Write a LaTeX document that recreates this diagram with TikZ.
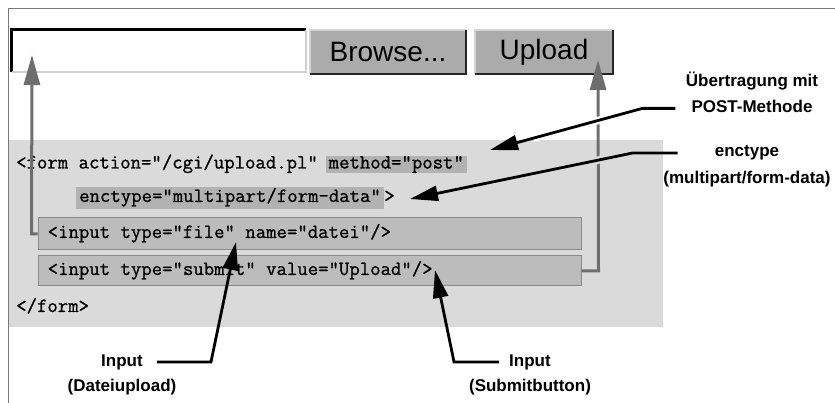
\documentclass[tikz,border=0pt]{standalone}
\usepackage{fontspec}
\setmainfont{Liberation Sans}
\newfontfamily\codefont[FakeBold=1]{Latin Modern Mono}
\usetikzlibrary{positioning, arrows.meta}
\definecolor{panelgray}{HTML}{DADADA}
\definecolor{hlgray}{HTML}{B2B2B2}
\definecolor{boxgray}{HTML}{BCBCBC}
\definecolor{boxborder}{HTML}{8A8A8A}
\definecolor{btngray}{HTML}{ABABAB}
\definecolor{btnlight}{HTML}{D4D4D4}
\definecolor{fieldlight}{HTML}{D0D0D0}
\definecolor{pathgray}{HTML}{6E6E6E}
\definecolor{framegray}{HTML}{7A7A7A}

\begin{document}
\begin{tikzpicture}[x=1pt, y=-1pt,
    code/.style={font=\codefont\fontsize{20.2}{22}\selectfont, inner sep=0pt,
                 text height=11pt, text depth=3pt},
    hl/.style={code, fill=hlgray, inner xsep=3pt, inner ysep=1.5pt},
    inputbox/.style={fill=boxgray, draw=boxborder, line width=1pt,
                     minimum width=543pt, inner sep=0pt},
    lbl/.style={font=\bfseries\fontsize{17}{20}\selectfont, inner sep=0pt,
                text height=12pt, text depth=4pt},
    btn/.style={fill=btngray, font=\fontsize{28}{31}\selectfont, inner sep=0pt,
                minimum height=44pt},
    callout/.style={line width=2.8pt, -{Triangle[length=28pt, width=15pt]}},
    formpath/.style={draw=pathgray, line width=3pt,
                     -{Triangle[length=30pt, width=16pt]}}]
  \useasboundingbox (0,0) rectangle (835,403);

  % frame and form area
  \draw[framegray, line width=1pt] (8,403) -- (8,9) -- (835,9);
  \fill[panelgray] (9,140) rectangle (663,327);

  % browser widgets
  \node[fill=white, minimum width=294pt, minimum height=42pt, inner sep=0pt]
    (filefield) at (159,51) {};
  \draw[black, line width=3pt] (filefield.south west) -- (filefield.north west)
    -- (filefield.north east);
  \draw[fieldlight, line width=2pt] (filefield.south west) -- (filefield.south east)
    -- (filefield.north east);
  \node[btn, minimum width=156pt] (browse) at (388,52) {Browse...};
  \node[btn, minimum width=138pt] (upload) at (544,52) {Upload};
  \foreach \b in {browse, upload} {
    \draw[btnlight, line width=1.5pt] (\b.south west) -- (\b.north west) -- (\b.north east);
    \draw[black!85, line width=2pt] (\b.south west) -- (\b.south east) -- (\b.north east);
  }

  % html source
  \node[code, anchor=west] (formopen) at (16,164.5) {<form action="/cgi/upload.pl"};
  \node[hl, right=7.4pt of formopen] (method) {method="post"};
  \node[hl, inner ysep=4pt, anchor=west] (enctype) at (76,198)
    {enctype="multipart/form-data"};
  \node[code, right=0pt of enctype] (encclose) {>};
  \node[inputbox, minimum height=32pt] (filebox) at (309.5,234) {};
  \node[code, anchor=west] (filecode) at ([xshift=10pt]filebox.west)
    {<input type="file" name="datei"/>};
  \node[inputbox, minimum height=30pt] (submitbox) at (309.5,271) {};
  \node[code, anchor=west] (submitcode) at ([xshift=10pt]submitbox.west)
    {<input type="submit" value="Upload"/>};
  \node[code, anchor=west] (formclose) at (16,308) {</form>};

  % what the form does in the browser
  \coordinate (fieldtip) at (32,55);
  \coordinate (uploadtip) at (598,60);
  \draw[formpath] (filebox.west) -- ++(-6,0) -- (fieldtip);
  \draw[formpath] (submitbox.east) -- ++(17,0) -- (uploadtip);

  % labels
  \node[lbl] (post1) at (752,83) {Übertragung mit};
  \node[lbl, below=9pt of post1] (post2) {POST-Methode};
  \node[lbl] (enc1) at (747,153) {enctype};
  \node[lbl, below=10pt of enc1] (enc2) {(multipart/form-data)};
  \node[lbl] (file1) at (122,362) {Input};
  \node[lbl, below=9pt of file1] (file2) {(Dateiupload)};
  \node[lbl] (submit1) at (530,362) {Input};
  \node[lbl, below=9pt of submit1] (submit2) {(Submitbutton)};

  \coordinate (posttip) at (490,150);
  \coordinate (enctip) at (410,199);
  \coordinate (filetip) at (236,242);
  \coordinate (submittip) at (435,270);
  \draw[callout, preaction={draw=white, line width=7.5pt, -, shorten >=45pt}]
    ([xshift=-16pt]post2.west) -- ++(-33,0) -- (posttip);
  \draw[callout, preaction={draw=panelgray, line width=7.5pt, -,
                            shorten <=20pt, shorten >=40pt}]
    ([xshift=-37pt]enc1.west) -- ++(-45,0) -- (enctip);
  \draw[callout] ([xshift=14pt]file1.east) -- ++(54,0) -- (filetip);
  \draw[callout] ([xshift=-10pt]submit1.west) -- ++(-45,0) -- (submittip);
\end{tikzpicture}
\end{document}
